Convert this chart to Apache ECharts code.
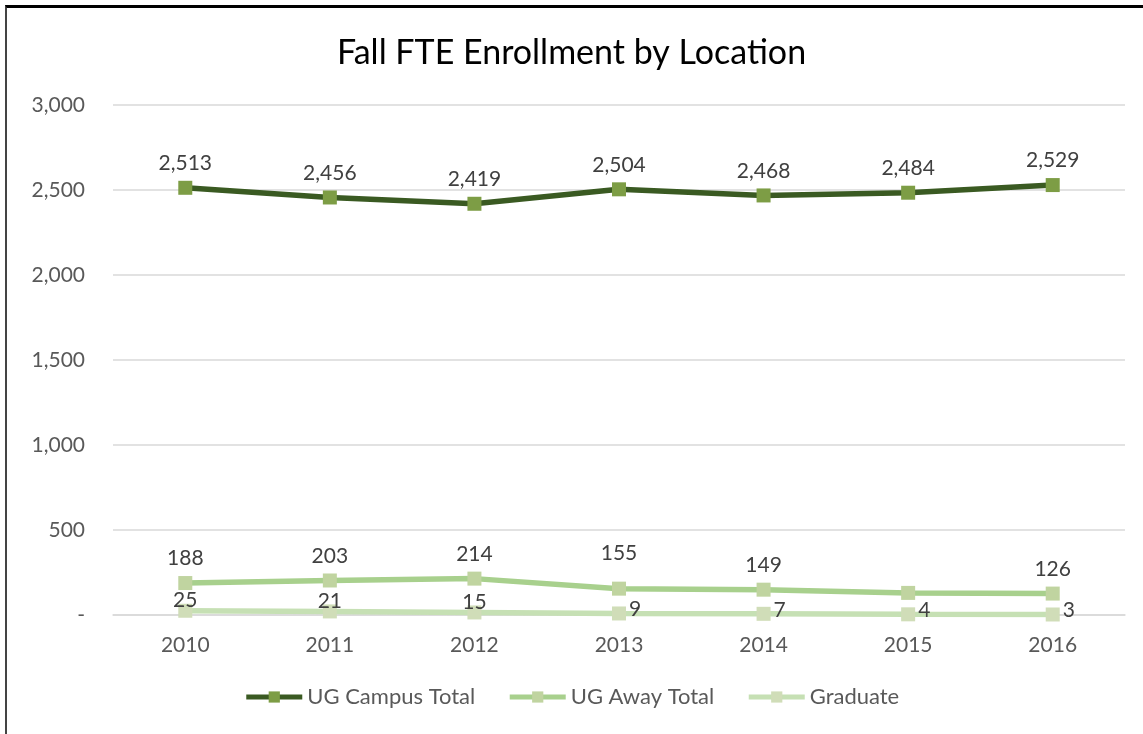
<!DOCTYPE html>
<html>
<head>
<meta charset="utf-8">
<script src="https://cdn.jsdelivr.net/npm/echarts@6/dist/echarts.min.js"></script>
<style>
    html, body { margin: 0; padding: 0; background: #fff; }
    #frame {
        position: absolute; left: 5px; top: 5px; width: 1140px; height: 730px;
        border-top: 3px solid #000; border-left: 2px solid #444;
    }
    #chart { position: absolute; left: 0; top: 0; width: 1143px; height: 734px; }
</style>
</head>
<body>
<div id="frame"></div>
<div id="chart"></div>
<script>
const years = ['2010', '2011', '2012', '2013', '2014', '2015', '2016'];
const campusTotal = [2513, 2456, 2419, 2504, 2468, 2484, 2529];
const awayTotal = [188, 203, 214, 155, 149, 130, 126];
const graduate = [25, 21, 15, 9, 7, 4, 3];

const font = 'Lato, "Open Sans", sans-serif';
const labelStyle = { show: true, color: '#404040', fontSize: 21, fontFamily: font };

function fmt(v) {
    return v === 0 ? '-' : v.toLocaleString('en-US');
}

// away: 2015 label hidden, 2013 label pushed up
const awayData = awayTotal.map((v, i) => {
    if (i === 5) return { value: v, label: { show: false } };
    if (i === 3) return { value: v, label: { distance: 18 } };
    return v;
});
// graduate: first three labels above, rest to the right
const gradData = graduate.map((v, i) => {
    if (i < 3) return { value: v, label: { position: 'top', distance: -7 } };
    return { value: v, label: { position: 'right', distance: 3, offset: [0, -4] } };
});

const chart = echarts.init(document.getElementById('chart'));
chart.setOption({
    animation: false,
    title: {
        text: 'Fall FTE Enrollment by Location',
        left: 'center',
        top: 31,
        textStyle: { color: '#000', fontSize: 34, fontWeight: 'normal', fontFamily: font }
    },
    grid: { left: 113, right: 18, top: 105, bottom: 119 },
    legend: {
        bottom: 21,
        left: 'center',
        itemWidth: 56,
        itemHeight: 14,
        itemGap: 32,
        lineStyle: { width: 5 },
        textStyle: { color: '#595959', fontSize: 22, fontFamily: font }
    },
    xAxis: {
        type: 'category',
        data: years,
        axisLine: { lineStyle: { color: '#d9d9d9', width: 1.5 } },
        axisTick: { show: false },
        axisLabel: { color: '#595959', fontSize: 21, fontFamily: font, margin: 20 }
    },
    yAxis: {
        type: 'value',
        min: 0,
        max: 3000,
        interval: 500,
        axisLabel: { color: '#595959', fontSize: 21, fontFamily: font, margin: 28, formatter: fmt },
        splitLine: { lineStyle: { color: '#d9d9d9', width: 1.5 } }
    },
    series: [
        {
            name: 'UG Campus Total',
            type: 'line',
            data: campusTotal,
            symbol: 'rect',
            symbolSize: 14,
            lineStyle: { color: '#3a5a22', width: 5.5 },
            itemStyle: { color: '#7d9d45' },
            label: Object.assign({}, labelStyle, { position: 'top', distance: 7, formatter: p => fmt(p.value) })
        },
        {
            name: 'UG Away Total',
            type: 'line',
            data: awayData,
            symbol: 'rect',
            symbolSize: 14,
            lineStyle: { color: '#a8d08d', width: 5.5 },
            itemStyle: { color: '#c0d4a0' },
            label: Object.assign({}, labelStyle, { position: 'top', distance: 7 })
        },
        {
            name: 'Graduate',
            type: 'line',
            data: gradData,
            symbol: 'rect',
            symbolSize: 14,
            lineStyle: { color: '#c6e0b4', width: 5.5 },
            itemStyle: { color: '#d0ddb8' },
            label: labelStyle
        }
    ]
});
</script>
</body>
</html>
